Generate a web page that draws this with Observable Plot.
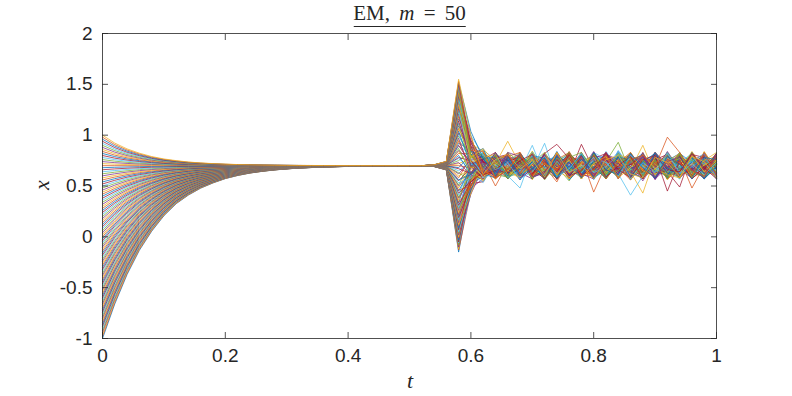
<!DOCTYPE html>
<html><head><meta charset="utf-8">
<script src="https://cdn.jsdelivr.net/npm/d3@7"></script>
<script src="https://cdn.jsdelivr.net/npm/@observablehq/plot@0.6"></script>
<style>
html,body{margin:0;padding:0;background:#fff;}
#wrap{position:relative;width:792px;height:396px;overflow:hidden;}
#wrap svg{position:absolute;left:0;top:0;}
.lbl{position:absolute;font-family:"Liberation Serif","DejaVu Serif",serif;color:#262626;white-space:nowrap;line-height:1;}
</style></head><body>
<div id="wrap">
  <div id="title" class="lbl" style="left:409.5px;top:3px;transform:translateX(-50%);font-size:21px;word-spacing:4px;padding-bottom:2px;border-bottom:1px solid #262626;">EM, <i>m</i> = 50</div>
  <div id="ylab" class="lbl" style="left:42px;top:185px;transform:translate(-50%,-50%) rotate(-90deg);font-size:22px;"><i>x</i></div>
  <div id="xlab" class="lbl" style="left:410px;top:381px;transform:translate(-50%,-50%);font-size:22px;"><i>t</i></div>
</div>
<script>
const tSteps = [0,0.02,0.04,0.06,0.08,0.1,0.12,0.14,0.16,0.18,0.2,0.22,0.24,0.26,0.28,0.3,0.32,0.34,0.36,0.38,0.4,0.42,0.44,0.46,0.48,0.5,0.52,0.54,0.56,0.58,0.6,0.62,0.64,0.66,0.68,0.7,0.72,0.74,0.76,0.78,0.8,0.82,0.84,0.86,0.88,0.9,0.92,0.94,0.96,0.98,1];
const startX100 = [-100,-98,-96,-94,-92,-90,-88,-86,-84,-82,-80,-78,-76,-74,-72,-70,-68,-66,-64,-62,-60,-58,-56,-54,-52,-50,-48,-46,-44,-42,-40,-38,-36,-34,-32,-30,-28,-26,-24,-22,-20,-18,-16,-14,-12,-10,-8,-6,-4,-2,0,2,4,6,8,10,12,14,16,18,20,22,24,26,28,30,32,34,36,38,40,42,44,46,48,50,52,54,56,58,60,62,64,66,68,70,72,74,76,78,80,82,84,86,88,90,92,94,96,98,100];
const settleX = 0.7;
const gapBelow = [1,0.80,0.63,0.49,0.38,0.29,0.22,0.17,0.13,0.10,0.075,0.057,0.043,0.033,0.025,0.019,0.014,0.011,0.008,0.006,0.0045,0.0034,0.0026,0.002,0.0015,0.0011,0.0008];
const gapAbove = [1,0.74,0.55,0.41,0.30,0.22,0.165,0.12,0.09,0.067,0.05,0.037,0.027,0.02,0.015,0.011,0.008,0.006,0.0045,0.0033,0.0025,0.0018,0.0013,0.001,0.0007,0.0005,0.0004];
const preSpikeFrac = [0.01, 0.05];
const postSpikeFrac = [0.25, 0.05];
const spikeOffset = [-85,-83,-82,-80,-78,-76,-75,-73,-71,-70,-68,-66,-65,-63,-61,-59,-58,-56,-54,-53,-51,-49,-48,-46,-44,-42,-41,-39,-37,-36,-34,-32,-31,-29,-27,-25,-24,-22,-20,-19,-17,-15,-14,-12,-10,-8,-7,-5,-3,-2,0,2,3,5,7,8,10,12,14,15,17,19,20,22,24,25,27,29,31,32,34,36,37,39,41,42,44,46,48,49,51,53,54,56,58,59,61,63,65,66,68,70,71,73,75,76,78,80,82,83,85];
const noise = [
[3,-6,9,-2,5,-11,4,0,-7,8,-3,12,-5,1,-9,6,-2,10,-4,2,-8],
[-5,8,-1,-12,6,2,-7,11,-3,-9,4,7,-2,-14,5,0,9,-6,3,-10,6],
[10,-3,-8,4,13,-6,1,-4,9,-1,-13,6,3,-7,11,-5,2,8,-11,4,-1],
[-2,-9,5,7,-4,10,-12,3,6,-5,1,-8,14,-3,-6,9,-10,4,0,7,-3],
[7,1,-10,-3,9,-7,5,-1,-15,4,10,-2,-6,8,-4,2,-9,12,-5,-1,5],
[-8,19,6,-6,-1,12,-3,8,-2,-10,3,11,-9,5,0,-12,6,-3,9,-7,2],
[1,-12,3,9,-8,-2,7,-6,10,2,-7,-4,8,-11,3,6,-1,-8,5,11,-6],
[12,-4,-6,2,-10,5,9,-9,-1,7,-4,3,-12,6,10,-3,-7,1,-2,8,-9],
[-6,9,-3,-9,4,-5,-11,6,13,-6,2,-1,5,-3,-8,11,-4,7,-22,0,4],
[4,-7,11,5,-13,3,-2,-8,2,9,-11,8,-1,-6,7,-2,13,-9,6,-4,-2],
[-11,2,-5,8,1,-9,6,4,-10,-3,12,-6,9,2,-15,4,-1,-5,10,-8,7],
[9,-1,7,-11,-5,8,-14,2,5,-7,-2,10,-4,11,-1,-9,3,6,-3,-12,1],
[-3,13,-9,1,7,-4,22,-13,8,0,-6,-9,15,-2,4,-7,10,-1,-8,5,-4],
[6,-10,2,-4,11,-12,8,5,-5,13,-8,1,-3,-10,9,3,-6,-11,7,1,-5],
[-9,5,-12,10,-2,6,-5,9,-14,-2,7,-3,2,8,-11,-4,5,12,-6,-3,9],
[2,-5,8,-7,3,-1,11,-10,4,-8,5,-13,7,1,6,-8,-3,4,-10,13,-2],
[-13,7,1,3,-9,10,-3,-2,11,-5,-12,4,-7,12,-3,9,-14,2,8,-6,3],
[8,-8,-4,12,-6,2,-9,7,-1,10,-3,-7,11,-5,-2,13,1,-10,4,-1,-7],
[16,3,10,-13,8,-6,4,-11,6,-12,9,2,-8,3,-13,5,7,-2,-9,10,-11],
[5,-14,4,-1,-7,13,-8,10,-6,3,-10,14,-2,-4,8,-6,-1,9,2,-5,8],
[-7,10,-7,6,2,-10,12,-5,-8,5,1,-4,10,-12,4,0,-11,7,-3,3,-3],
[14,-2,0,-8,10,-4,-6,3,-12,8,-5,6,-1,-9,12,-7,4,-4,11,-13,2],
[-4,6,-20,2,-3,9,-1,-16,7,-4,11,-8,3,5,-6,10,-12,1,-2,6,-10],
[0,-8,13,-5,6,-14,10,-2,3,-9,-1,9,-11,4,-3,1,8,-6,14,-4,5],
[11,-11,-2,7,-12,4,-3,12,-9,1,6,-10,5,-7,2,-13,9,3,-8,-2,11],
[-10,1,5,-3,9,-8,13,-4,-2,11,-13,3,-6,9,-1,7,-5,-12,6,2,-6],
[3,12,-10,-1,-5,20,-10,6,10,-7,4,-2,12,-14,8,-4,2,-3,-7,9,1],
[-6,-4,8,11,-9,1,5,-13,4,-3,-8,13,-5,2,-10,6,11,-9,1,-4,-8],
[13,-6,-3,5,3,-11,-7,8,-5,12,-2,-6,9,-1,7,-11,-2,10,-5,-10,4],
[-12,9,2,-10,12,-3,2,-7,14,-6,3,7,-13,6,-5,3,-9,5,-1,8,-12],
[7,-2,-13,4,-6,11,-5,1,-8,5,-11,0,6,-4,20,-9,12,-3,-11,4,10],
[-5,14,4,-6,0,-7,9,-12,7,-1,10,-9,2,-8,4,-1,-6,8,2,-13,-1],
[1,-13,7,9,-10,5,-2,11,-4,-11,2,8,-7,13,-9,5,-3,-8,12,-5,6],
[9,3,-6,-12,7,-2,-9,4,0,8,-14,5,1,-3,10,-10,6,-1,-6,11,-4],
[-9,-5,11,1,-14,9,3,-6,12,-4,6,-12,8,-1,-7,13,-8,2,7,-2,-9],
[4,8,-4,-7,5,-13,11,-1,-10,6,-3,9,-11,7,1,-5,3,-12,5,-8,13],
[-14,0,9,3,-3,6,-8,13,-6,2,-7,4,-2,-12,11,-1,-10,9,-4,6,-5],
[6,-9,-1,13,-7,-5,7,-3,9,-13,12,-1,4,-6,-27,8,-13,4,10,-11,2],
[-3,11,-9,-4,8,2,-12,5,-2,10,-6,-8,13,-4,6,-12,4,-7,-1,12,-7],
[10,-6,3,-9,-2,14,-4,-8,6,-5,2,11,-5,3,-12,2,9,-2,-9,1,7],
[-8,2,12,-2,6,-9,5,9,-13,3,-10,-3,7,-11,5,10,-5,-10,13,-6,-2],
[2,-11,-5,8,-12,3,-1,-5,10,-9,7,12,-9,1,9,-6,-2,6,-4,-10,12],
[-5,7,6,-13,10,-6,12,-10,-3,6,-1,-7,4,10,-8,0,-11,12,3,-3,-8],
[12,-1,-11,5,-4,8,-13,2,7,-12,11,-4,-6,5,-2,12,-7,-5,9,2,-12],
[-1,-14,2,24,1,-11,6,-9,13,-3,-5,9,-13,8,-11,3,7,-9,-2,10,3],
[8,5,-8,-3,-11,12,-2,7,-7,9,-12,1,10,-8,3,-7,14,-4,-12,5,-6],
[-13,10,-2,6,9,-4,-9,12,-1,-6,4,-13,2,12,-6,9,-1,-13,6,-4,9],
[5,-3,13,-10,-6,2,8,-12,5,-10,13,6,-4,-9,11,-3,-9,7,0,-12,4],
[-7,13,-6,2,11,-13,4,-3,-9,21,-4,-2,9,-5,-13,7,2,-6,11,8,-10],
[11,-8,-12,7,-1,5,-11,10,2,-7,-2,10,-12,4,8,-13,5,9,-7,-1,0],
[-2,4,9,-7,13,-8,1,-13,9,4,-9,3,6,-14,1,11,-12,3,-5,10,-6],
[6,-12,1,12,-9,0,10,-5,-12,8,-3,-10,11,-1,5,-4,8,-11,2,-7,11],
[-10,6,-9,-1,4,-12,-6,9,3,-13,10,7,-8,6,-10,2,-4,13,-10,4,-3],
[13,-4,5,-11,-7,9,-2,-10,11,-1,-6,12,-3,-11,7,-8,11,-2,6,-13,2],
[-4,9,-13,3,8,-5,13,-7,-6,5,-12,-1,14,-4,-2,10,-10,1,-8,7,-11],
[3,-10,7,10,-13,-3,6,-1,12,-11,1,8,-7,10,-12,4,-6,-21,13,-3,8],
[-11,1,11,-6,2,7,-8,14,-5,-2,9,-11,-1,7,3,-13,10,-5,-2,11,-4],
[9,-7,-3,-12,10,-10,3,-4,8,-8,-7,13,-10,2,-5,9,-1,12,-12,-5,6],
[-6,12,4,-2,-10,11,-13,6,-1,10,-2,-5,5,-12,13,-6,-8,4,8,-9,-1],
[1,-3,-10,9,6,-7,11,-11,2,-4,14,-8,-2,11,-9,5,3,-12,-1,6,-9],
[-12,8,2,-8,-3,13,-5,3,-11,7,-6,4,23,-7,1,-11,13,-4,10,-6,5],
[7,-13,-7,4,12,-2,-9,10,-3,-12,8,-4,-9,3,9,-2,-5,11,-11,13,-7],
[-3,5,13,-13,0,-9,8,-6,12,1,-11,11,3,-10,-6,8,-13,6,-3,-4,10],
[10,-2,-5,6,-14,4,-1,12,-9,-6,3,-12,9,5,-13,12,-3,-7,4,9,-12],
[-8,11,-12,1,7,-6,12,-14,4,9,-5,2,-11,8,6,-9,1,10,-13,-1,3],
[4,-6,8,-9,-8,14,-10,5,-2,-11,12,-6,7,-13,-1,3,9,-6,2,-11,7],
[-14,3,-1,11,-4,-1,5,-8,13,-4,-10,9,-4,1,10,-14,6,-2,-9,12,-2],
[2,10,-11,-5,9,-12,-3,7,-7,11,-1,-13,12,-5,4,-4,-11,13,-6,0,9],
[-5,-9,6,8,-11,3,13,-12,1,-7,6,10,-8,-29,-10,11,-6,3,12,-10,-5],
[12,2,-13,-3,5,-10,-6,9,-10,3,-13,5,-1,12,-7,-2,13,-9,-4,7,1],
[-9,7,4,-12,-2,9,-11,1,11,-13,5,-9,10,-3,2,7,-12,8,-7,3,-13],
[6,-11,-4,9,13,-7,3,-9,-4,8,-26,1,-12,9,-4,13,-1,-11,11,-8,4],
[-1,13,-8,-6,-12,6,-4,11,-13,2,9,-7,4,-10,12,-8,5,-5,-10,14,-6],
[8,-4,12,2,-7,-13,10,-3,6,-9,-2,13,-6,-1,-12,4,-10,11,-2,-7,10],
[-11,-1,-9,13,3,-5,-12,8,-6,12,-11,-3,8,-13,5,-5,11,-1,6,-12,1],
[3,9,1,-10,-22,11,-1,-11,9,-5,7,-10,13,-4,-8,10,-4,-13,7,2,-9],
[-6,-12,10,5,8,-3,-13,4,-12,10,-4,6,-9,11,-2,-12,8,2,-11,9,-3],
[13,4,-6,-7,-4,10,7,-13,0,-10,12,-2,-11,3,12,-6,-9,7,-2,-13,8],
[-2,-7,3,11,-10,1,-8,13,-8,4,-12,9,2,-12,8,3,-13,-3,12,-5,-10],
[9,12,-13,-1,6,-12,9,-2,5,-13,2,-8,11,6,-11,-3,4,12,-8,1,6],
[-13,-3,7,4,-6,8,-10,6,-1,9,-8,12,-7,-6,10,-13,-2,9,-5,11,-11],
[5,6,-9,-11,10,-1,-5,-12,12,-3,11,-11,4,8,-7,6,-11,-4,13,-9,2],
[-7,-10,12,3,-13,13,-3,5,-11,1,-6,4,-13,10,-2,-10,12,-7,-1,7,-5],
[11,1,-3,-8,2,-9,12,21,7,-12,13,-5,-3,1,11,-7,-5,10,-10,-3,12],
[-4,14,-10,6,-9,4,-13,10,-4,6,-2,-12,9,-11,4,12,-8,-3,8,-13,-1],
[2,-13,5,-4,11,-10,6,-5,10,-10,-9,8,-1,4,-13,2,10,-12,1,10,-8],
[-12,5,11,-9,-1,7,-8,12,-13,3,10,-2,-11,13,-5,-9,3,7,-12,5,13],
[7,-5,-7,12,-12,-4,11,-1,3,-8,-13,11,6,-8,9,-11,0,-6,11,-4,-6],
[-9,9,-2,-3,7,-13,2,-10,8,13,-5,-9,12,-3,-10,5,-13,11,-7,-11,4],
[1,-9,13,-12,-5,10,-12,4,-6,-2,8,3,-10,11,-1,-7,8,-2,4,12,-12],
[12,-12,-5,8,4,-8,1,-13,11,-9,-3,12,-4,-12,6,10,-25,5,-13,-1,7],
[-3,4,8,-10,12,-2,-10,9,-2,11,-12,-4,8,-7,-12,13,-2,-10,9,-8,-2],
[6,-8,-12,10,-8,12,-4,2,-12,-4,7,-13,3,13,-4,-11,6,3,-9,13,-10],
[-10,13,3,-5,-11,2,13,-9,6,-13,2,9,-12,-2,11,-3,-9,-12,10,-6,5],
[4,-2,-11,13,9,-11,-7,11,-9,7,-10,5,2,-10,13,-13,4,8,-4,-12,11],
[-8,-6,10,-13,1,8,-12,3,13,-6,12,-8,-5,7,-9,2,-7,12,-11,6,-7],
[10,7,-4,2,-13,-6,9,-11,-3,12,-7,-1,11,-13,3,-6,13,-8,2,-9,3],
[-1,-11,13,-7,5,11,-13,6,-10,-5,10,-11,0,9,-13,11,-4,-6,12,-2,-13],
[13,3,-8,9,-10,-3,8,-12,4,-12,13,-4,-9,12,-2,-12,9,1,-13,8,6],
[-6,10,-12,-4,12,-9,2,-4,12,-10,-4,11,-13,6,10,-1,28,13,-5,-10,9],
[8,-13,6,11,-3,5,-11,13,-7,1,-13,6,10,-8,-12,8,3,-11,9,4,-12]
];
const xTicks = [0,0.2,0.4,0.6,0.8,1];
const yTicks = [-1,-0.5,0,0.5,1,1.5,2];
const palette = ["#0072BD","#D95319","#EDB120","#7E2F8E","#77AC30","#4DBEEE","#A2142F"];

const rows = [];
startX100.forEach((s, i) => {
  const x0 = s / 100;
  const gap = x0 < settleX ? gapBelow : gapAbove;
  const sp = spikeOffset[i] / 100;
  const nPre = gap.length + preSpikeFrac.length;
  tSteps.forEach((t, k) => {
    let x;
    if (k < gap.length) x = settleX + (x0 - settleX) * gap[k];
    else if (k < nPre) x = settleX + sp * preSpikeFrac[k - gap.length];
    else if (k === nPre) x = settleX + sp;
    else {
      const j = k - nPre - 1;
      x = settleX + noise[i][j] / 100 + (j < postSpikeFrac.length ? sp * postSpikeFrac[j] : 0);
    }
    rows.push({line: i, t, x, color: palette[i % palette.length]});
  });
});

const axisColor = "#262626";
const chart = Plot.plot({
  width: 792, height: 396,
  marginLeft: 102, marginRight: 76, marginTop: 33, marginBottom: 58,
  x: {domain: [0, 1]},
  y: {domain: [-1, 2]},
  color: {type: "identity"},
  style: {background: "transparent", fontFamily: "'Liberation Sans', Arial, Helvetica, sans-serif", fontSize: "19px", color: axisColor},
  marks: [
    Plot.line(rows, {x: "t", y: "x", z: "line", stroke: "color", strokeWidth: 0.75}),
    Plot.frame({stroke: axisColor, strokeWidth: 0.8}),
    Plot.axisX({ticks: xTicks, anchor: "bottom", tickSize: -6, fill: "none", label: null, strokeWidth: 0.8}),
    Plot.axisX({ticks: xTicks, anchor: "top", tickSize: -6, fill: "none", label: null, strokeWidth: 0.8}),
    Plot.axisY({ticks: yTicks, anchor: "left", tickSize: -6, fill: "none", label: null, strokeWidth: 0.8}),
    Plot.axisY({ticks: yTicks, anchor: "right", tickSize: -6, fill: "none", label: null, strokeWidth: 0.8}),
    Plot.axisX({ticks: xTicks, anchor: "bottom", tickSize: 0, tickPadding: 10, tickFormat: d => String(d), label: null, fill: axisColor}),
    Plot.axisY({ticks: yTicks, anchor: "left", tickSize: 0, tickPadding: 10, tickFormat: d => String(d), label: null, fill: axisColor})
  ]
});
document.getElementById("wrap").prepend(chart);
</script>
</body></html>
